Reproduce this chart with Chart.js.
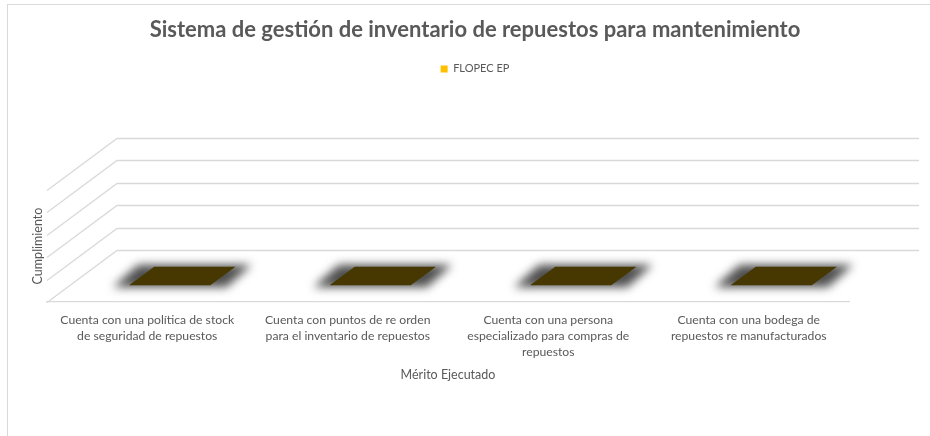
<!DOCTYPE html>
<html>
<head>
<meta charset="utf-8">
<script src="https://cdn.jsdelivr.net/npm/chart.js@4.4.0/dist/chart.umd.min.js"></script>
<style>
  html, body { margin: 0; padding: 0; background: #fff; }
  #wrap { position: relative; width: 930px; height: 436px; overflow: hidden; }
  #frame { position: absolute; left: 7px; top: 4px; width: 960px; height: 460px;
           border-top: 1px solid #d9d9d9; border-left: 1px solid #d9d9d9; }
  canvas { position: absolute; left: 0; top: 0; }
</style>
</head>
<body>
<div id="wrap">
  <div id="frame"></div>
  <canvas id="chart" width="930" height="436"></canvas>
</div>
<script>
const chartTitle = 'Sistema de gestión de inventario de repuestos para mantenimiento';
const seriesName = 'FLOPEC EP';
const xTitle = 'Mérito Ejecutado';
const yTitle = 'Cumplimiento';
const categories = [
    ['Cuenta con una política de stock', 'de seguridad de repuestos'],
    ['Cuenta con puntos de re orden', 'para el inventario de repuestos'],
    ['Cuenta con una persona', 'especializado para compras de', 'repuestos'],
    ['Cuenta con una bodega de', 'repuestos re manufacturados']
];
const values = [0, 0, 0, 0];
const yMin = 0;
const yMax = 5;
const yStep = 1;

const textColor = '#595959';
const gridColor = '#d9d9d9';
const barColor = '#FFC000';
const barTopColor = '#463800';
const font = 'Lato';

// offset of the back wall relative to the front plane (3-D look)
const depth = { dx: 70, dy: 52 };
const barDepth = [0.32, 0.68];
const chartTop = 190;

function facePath(ctx, bar, top, grow, lift) {
    const half = bar.width / 2 + grow;
    const [f1, f2] = barDepth;
    ctx.beginPath();
    ctx.moveTo(bar.x - half + f1 * depth.dx, top - f1 * depth.dy + lift);
    ctx.lineTo(bar.x + half + f1 * depth.dx, top - f1 * depth.dy + lift);
    ctx.lineTo(bar.x + half + f2 * depth.dx, top - f2 * depth.dy - lift);
    ctx.lineTo(bar.x - half + f2 * depth.dx, top - f2 * depth.dy - lift);
    ctx.closePath();
}

const wall3d = {
    id: 'wall3d',
    beforeDatasetsDraw(chart) {
        const { ctx, chartArea: area, scales: { y } } = chart;
        ctx.save();
        ctx.strokeStyle = gridColor;
        ctx.lineWidth = 1.3;
        y.ticks.forEach(tick => {
            const py = Math.round(y.getPixelForValue(tick.value)) + 0.5;
            ctx.beginPath();
            ctx.moveTo(area.left, py);
            ctx.lineTo(area.left + depth.dx, py - depth.dy);
            ctx.lineTo(area.right + depth.dx, py - depth.dy);
            ctx.stroke();
        });
        ctx.restore();
    },
    afterDatasetsDraw(chart) {
        const { ctx, scales: { y } } = chart;
        const meta = chart.getDatasetMeta(0);
        meta.data.forEach((bar, i) => {
            const top = y.getPixelForValue(values[i]);
            // soft shadow halo
            ctx.save();
            ctx.filter = 'blur(5px)';
            ctx.fillStyle = 'rgba(60,60,60,0.9)';
            facePath(ctx, bar, top, 16, 2);
            ctx.fill();
            ctx.restore();
            // face of the zero-height bar
            ctx.save();
            ctx.fillStyle = barTopColor;
            facePath(ctx, bar, top, 0, 0);
            ctx.fill();
            ctx.restore();
        });
    }
};

const context = document.getElementById('chart').getContext('2d');
new Chart(context, {
    type: 'bar',
    data: {
        labels: categories,
        datasets: [{
            label: seriesName,
            data: values,
            backgroundColor: barColor,
            borderWidth: 0,
            categoryPercentage: 1,
            barPercentage: 0.405
        }]
    },
    options: {
        responsive: false,
        animation: false,
        layout: { padding: { left: 20, right: 0, top: 0, bottom: 0 } },
        plugins: {
            title: {
                display: true,
                text: chartTitle,
                color: textColor,
                font: { family: font, size: 22, weight: 'bold' },
                padding: { top: 17, bottom: 10 }
            },
            legend: {
                display: true,
                labels: {
                    color: textColor,
                    font: { family: font, size: 11 },
                    boxWidth: 7,
                    boxHeight: 7,
                    padding: 10
                }
            },
            tooltip: { enabled: false }
        },
        scales: {
            x: {
                grid: { display: false, drawTicks: false },
                border: { display: true, color: gridColor, width: 1.3 },
                ticks: {
                    color: textColor,
                    font: { family: font, size: 12.2, lineHeight: 1.3 },
                    padding: 10,
                    maxRotation: 0,
                    autoSkip: false
                },
                title: {
                    display: true,
                    text: xTitle,
                    color: textColor,
                    font: { family: font, size: 12.5 },
                    padding: { top: 0, bottom: 54 }
                },
                afterFit: s => { s.height = 134; }
            },
            top: {
                type: 'category',
                position: 'top',
                labels: [''],
                grid: { display: false },
                border: { display: false },
                ticks: { display: false },
                afterFit: s => {
                    const c = s.chart;
                    const used = (c.titleBlock ? c.titleBlock.height : 53) + (c.legend ? c.legend.height : 27);
                    s.height = Math.max(0, chartTop - used);
                }
            },
            y: {
                min: yMin,
                max: yMax,
                ticks: { display: false, stepSize: yStep },
                grid: { display: false },
                border: { display: false },
                title: {
                    display: true,
                    text: yTitle,
                    color: textColor,
                    font: { family: font, size: 12.5 },
                    padding: { top: 10, bottom: 0 }
                },
                afterFit: s => { s.width = 27; }
            },
            right: {
                type: 'linear',
                position: 'right',
                grid: { display: false },
                border: { display: false },
                ticks: { display: false },
                afterFit: s => { s.width = 81; }
            }
        }
    },
    plugins: [wall3d]
});
</script>
</body>
</html>
